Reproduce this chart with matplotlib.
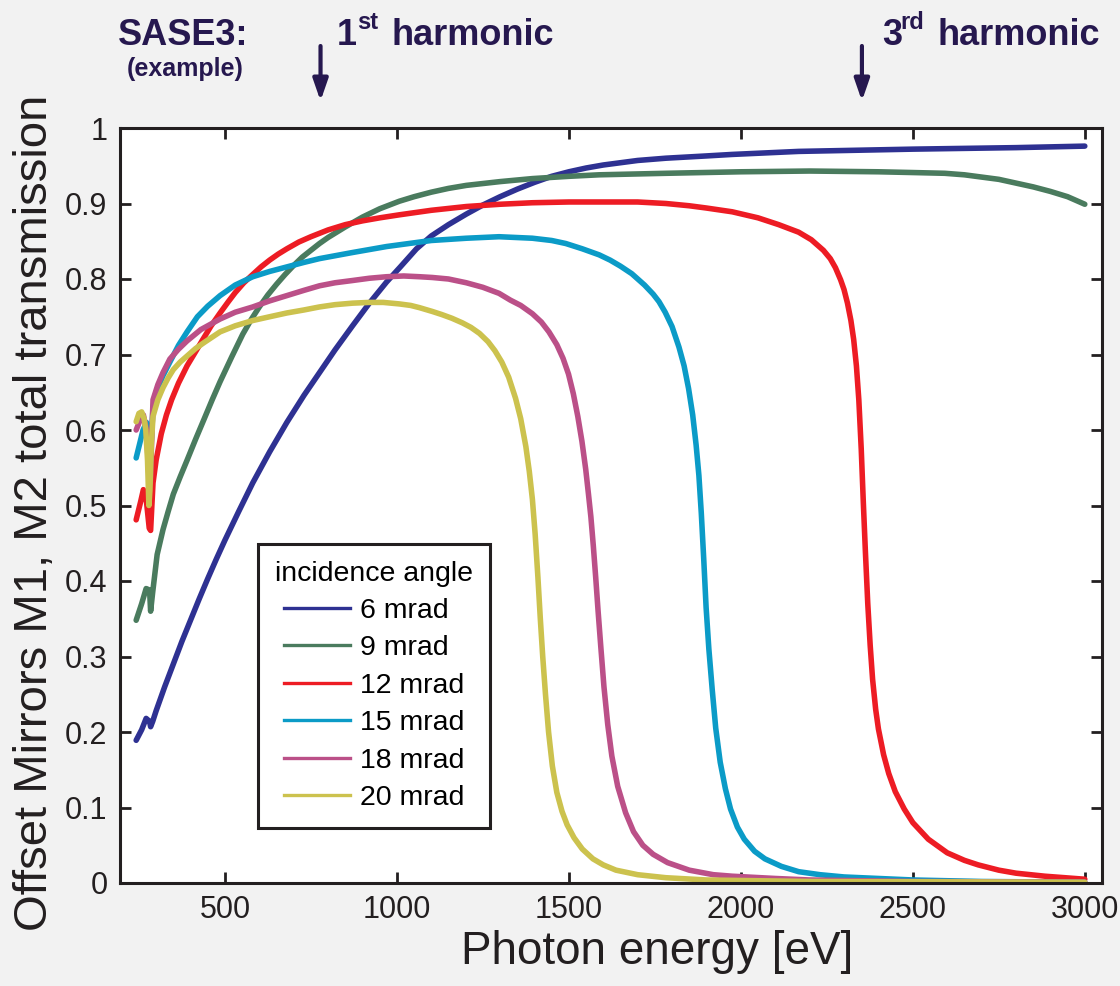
import matplotlib
matplotlib.use("Agg")
import matplotlib.pyplot as plt
from matplotlib.lines import Line2D

# ---------------- data ----------------
E_6 = [242, 258, 271, 281, 284, 290, 300, 325, 350, 375, 400, 425, 450, 475, 500, 540,
       581, 630, 680, 730, 775, 820, 871, 920, 970, 1010, 1057, 1100, 1150, 1202, 1250,
       1300, 1350, 1400, 1450, 1500, 1550, 1600, 1650, 1700, 1782, 1900, 1975, 2168,
       2500, 2800, 3000]
T_6 = [0.189, 0.203, 0.218, 0.214, 0.207, 0.214, 0.228, 0.260, 0.290, 0.320, 0.348,
       0.376, 0.403, 0.429, 0.454, 0.492, 0.530, 0.571, 0.610, 0.646, 0.676, 0.706,
       0.738, 0.768, 0.796, 0.816, 0.840, 0.857, 0.872, 0.886, 0.898, 0.909, 0.919,
       0.928, 0.936, 0.942, 0.947, 0.951, 0.954, 0.957, 0.960, 0.963, 0.965, 0.969,
       0.972, 0.974, 0.976]

E_9 = [242, 258, 271, 281, 284, 290, 303, 320, 335, 350, 370, 390, 415, 440, 463, 486,
       520, 552, 576, 600, 625, 650, 675, 700, 725, 750, 775, 800, 850, 900, 950, 1007,
       1050, 1100, 1150, 1202, 1300, 1394, 1500, 1588, 1782, 2000, 2200, 2400, 2500,
       2593, 2650, 2700, 2750, 2800, 2850, 2900, 2950, 3000]
T_9 = [0.348, 0.370, 0.390, 0.388, 0.360, 0.385, 0.435, 0.468, 0.492, 0.515, 0.538,
       0.560, 0.588, 0.615, 0.640, 0.664, 0.697, 0.727, 0.746, 0.763, 0.779, 0.793,
       0.806, 0.818, 0.829, 0.838, 0.847, 0.855, 0.869, 0.882, 0.893, 0.903, 0.909,
       0.915, 0.920, 0.924, 0.929, 0.933, 0.936, 0.938, 0.940, 0.942, 0.943, 0.942,
       0.941, 0.940, 0.938, 0.935, 0.932, 0.927, 0.922, 0.916, 0.909, 0.899]

E_12 = [242, 255, 263, 272, 280, 284, 291, 300, 315, 330, 345, 365, 390, 415, 436, 460,
        486, 510, 530, 555, 581, 605, 630, 655, 680, 715, 750, 800, 850, 900, 950, 1007,
        1100, 1202, 1300, 1394, 1500, 1588, 1700, 1782, 1850, 1900, 1975, 2050, 2110,
        2168, 2205, 2240, 2260, 2275, 2290, 2300, 2310, 2320, 2328, 2336, 2343, 2350,
        2356, 2362, 2369, 2376, 2383, 2392, 2400, 2415, 2430, 2449, 2475, 2500, 2545,
        2600, 2650, 2690, 2750, 2800, 2884, 3000]
T_12 = [0.481, 0.505, 0.521, 0.505, 0.470, 0.467, 0.530, 0.560, 0.595, 0.620, 0.640,
        0.662, 0.685, 0.704, 0.720, 0.738, 0.755, 0.770, 0.782, 0.795, 0.806, 0.816,
        0.825, 0.833, 0.840, 0.849, 0.856, 0.865, 0.872, 0.877, 0.881, 0.885, 0.891,
        0.896, 0.899, 0.901, 0.902, 0.902, 0.902, 0.900, 0.897, 0.894, 0.889, 0.881,
        0.872, 0.862, 0.852, 0.838, 0.827, 0.815, 0.799, 0.786, 0.768, 0.745, 0.720,
        0.685, 0.640, 0.575, 0.505, 0.440, 0.370, 0.315, 0.270, 0.230, 0.204, 0.170,
        0.145, 0.121, 0.098, 0.080, 0.058, 0.040, 0.030, 0.024, 0.017, 0.013, 0.009,
        0.005]

E_15 = [242, 262, 272, 279, 283, 291, 300, 320, 340, 365, 390, 420, 450, 486, 530, 581,
        630, 680, 730, 775, 870, 970, 1100, 1202, 1297, 1394, 1450, 1491, 1539, 1588,
        1620, 1650, 1683, 1720, 1745, 1762, 1780, 1800, 1820, 1835, 1848, 1860, 1870,
        1878, 1885, 1892, 1899, 1907, 1917, 1927, 1940, 1955, 1970, 1990, 2010, 2040,
        2070, 2118, 2168, 2230, 2300, 2500, 2700, 3000]
T_15 = [0.563, 0.600, 0.610, 0.585, 0.560, 0.630, 0.650, 0.672, 0.690, 0.712, 0.730,
        0.750, 0.764, 0.778, 0.792, 0.803, 0.810, 0.816, 0.822, 0.827, 0.835, 0.843,
        0.851, 0.854, 0.856, 0.854, 0.851, 0.847, 0.840, 0.832, 0.825, 0.817, 0.807,
        0.792, 0.780, 0.770, 0.756, 0.737, 0.710, 0.685, 0.655, 0.620, 0.580, 0.540,
        0.490, 0.430, 0.365, 0.310, 0.255, 0.205, 0.160, 0.125, 0.098, 0.074, 0.058,
        0.042, 0.032, 0.022, 0.015, 0.011, 0.008, 0.004, 0.002, 0.001]

E_18 = [242, 255, 263, 272, 279, 283, 291, 305, 320, 340, 365, 390, 430, 486, 530, 581,
        630, 680, 730, 775, 820, 871, 920, 970, 1020, 1066, 1103, 1150, 1202, 1250, 1297,
        1330, 1360, 1394, 1420, 1442, 1465, 1483, 1499, 1513, 1526, 1538, 1549, 1557,
        1564, 1571, 1578, 1585, 1593, 1602, 1613, 1625, 1642, 1665, 1688, 1715, 1745,
        1787, 1850, 1920, 1975, 2100, 2200, 2500, 3000]
T_18 = [0.600, 0.615, 0.620, 0.600, 0.540, 0.530, 0.640, 0.660, 0.676, 0.694, 0.707,
        0.718, 0.733, 0.747, 0.756, 0.763, 0.771, 0.778, 0.785, 0.791, 0.795, 0.798,
        0.801, 0.803, 0.804, 0.803, 0.802, 0.800, 0.795, 0.789, 0.781, 0.772, 0.765,
        0.754, 0.743, 0.730, 0.713, 0.695, 0.674, 0.648, 0.618, 0.585, 0.548, 0.515,
        0.485, 0.447, 0.405, 0.360, 0.312, 0.260, 0.210, 0.168, 0.128, 0.093, 0.068,
        0.050, 0.038, 0.027, 0.017, 0.011, 0.009, 0.006, 0.004, 0.002, 0.001]

E_20 = [242, 250, 258, 265, 270, 275, 279, 282, 286, 291, 305, 320, 335, 350, 370, 390,
        415, 440, 486, 530, 581, 630, 680, 730, 775, 820, 871, 920, 960, 1007, 1040,
        1066, 1103, 1130, 1160, 1190, 1215, 1240, 1265, 1285, 1305, 1325, 1345, 1360,
        1375, 1385, 1394, 1402, 1410, 1417, 1424, 1432, 1441, 1452, 1465, 1480, 1495,
        1515, 1539, 1570, 1600, 1637, 1700, 1782, 1900, 2200, 3000]
T_20 = [0.611, 0.622, 0.624, 0.615, 0.600, 0.560, 0.500, 0.520, 0.580, 0.618, 0.640,
        0.656, 0.669, 0.680, 0.690, 0.698, 0.708, 0.716, 0.730, 0.738, 0.745, 0.750,
        0.755, 0.759, 0.763, 0.766, 0.768, 0.769, 0.769, 0.767, 0.765, 0.762, 0.757,
        0.753, 0.748, 0.742, 0.736, 0.728, 0.717, 0.705, 0.690, 0.670, 0.642, 0.615,
        0.578, 0.545, 0.508, 0.462, 0.405, 0.350, 0.300, 0.250, 0.200, 0.155, 0.120,
        0.095, 0.077, 0.060, 0.045, 0.032, 0.024, 0.017, 0.011, 0.007, 0.004, 0.002,
        0.001]

SERIES = [
    ("6 mrad", E_6, T_6, "#2e3192"),
    ("9 mrad", E_9, T_9, "#4a7b5e"),
    ("12 mrad", E_12, T_12, "#ed1c24"),
    ("15 mrad", E_15, T_15, "#0b9bc7"),
    ("18 mrad", E_18, T_18, "#bb5088"),
    ("20 mrad", E_20, T_20, "#ccc24e"),
]

X_TICKS = [500, 1000, 1500, 2000, 2500, 3000]
Y_TICKS = [0, 0.1, 0.2, 0.3, 0.4, 0.5, 0.6, 0.7, 0.8, 0.9, 1.0]
Y_TICK_LABELS = ["0", "0.1", "0.2", "0.3", "0.4", "0.5", "0.6", "0.7", "0.8", "0.9", "1"]
HARMONIC_E = [778, 2352]

# ---------------- figure ----------------
FONT = "Liberation Sans"
ANN = "#26184f"
INK = "#231f20"
W, H = 1120, 986

fig = plt.figure(figsize=(W / 100, H / 100), dpi=100, facecolor="#f2f2f2")
ax = fig.add_axes([120 / W, 1 - 883 / H, (1102 - 120) / W, (883 - 128) / H])
ax.set_facecolor("white")

for name, e, t, c in SERIES:
    ax.plot(e, t, color=c, lw=4.0, solid_capstyle="round", solid_joinstyle="round")

ax.set_xlim(195, 3050)
ax.set_ylim(0, 1)
ax.set_xticks(X_TICKS)
ax.set_xticklabels([str(v) for v in X_TICKS], fontfamily=FONT, fontsize=22)
ax.set_yticks(Y_TICKS)
ax.set_yticklabels(Y_TICK_LABELS, fontfamily=FONT, fontsize=22)
ax.tick_params(direction="in", length=8, width=2, top=True, right=True,
               pad=9, colors=INK)
for s in ax.spines.values():
    s.set_linewidth(2.2)
    s.set_color(INK)

ax.set_xlabel("Photon energy [eV]", fontfamily=FONT, fontsize=33, color=INK)
ax.xaxis.set_label_coords((657 - 120) / 982, -0.062)
ax.set_ylabel("Offset Mirrors M1, M2 total transmission", fontfamily=FONT,
              fontsize=34, color=INK)
ax.yaxis.set_label_coords(-0.064, 0.49)

handles = [Line2D([0], [0], color=c, lw=2.4) for _, _, _, c in SERIES]
labels = [n for n, _, _, _ in SERIES]
leg = ax.legend(handles, labels, title="incidence angle", loc="lower left",
                bbox_to_anchor=((258 - 120) / 982, (883 - 828) / 755),
                borderaxespad=0, fancybox=False, framealpha=1, edgecolor=INK,
                prop={"family": FONT, "size": 20.5},
                title_fontproperties={"family": FONT, "size": 20.5},
                handlelength=2.3, handletextpad=0.35, labelspacing=0.4, borderpad=0.6)
leg.get_frame().set_linewidth(2.2)

# ---------------- annotations above the axes ----------------
def ftext(x, y, s, size):
    fig.text(x / W, 1 - y / H, s, fontsize=size, fontweight="bold", color=ANN,
             fontfamily=FONT, ha="left", va="baseline")

ftext(118, 45, "SASE3:", 26)
ftext(127, 76, "(example)", 18)
ftext(337, 45, "1", 26)
ftext(357, 29, "st", 17)
ftext(391, 45, "harmonic", 26)
ftext(882, 45, "3", 26)
ftext(900, 29, "rd", 17)
ftext(937, 45, "harmonic", 26)

for e in HARMONIC_E:
    ax.annotate("", xy=(e, (883 - 101) / 755), xycoords=ax.get_xaxis_transform(),
                xytext=(e, (883 - 46) / 755), textcoords=ax.get_xaxis_transform(),
                arrowprops=dict(arrowstyle="-|>,head_length=1.3,head_width=0.45",
                                lw=3, color=ANN, shrinkA=0, shrinkB=0),
                annotation_clip=False)

fig.savefig("out.png", dpi=100, facecolor=fig.get_facecolor())
